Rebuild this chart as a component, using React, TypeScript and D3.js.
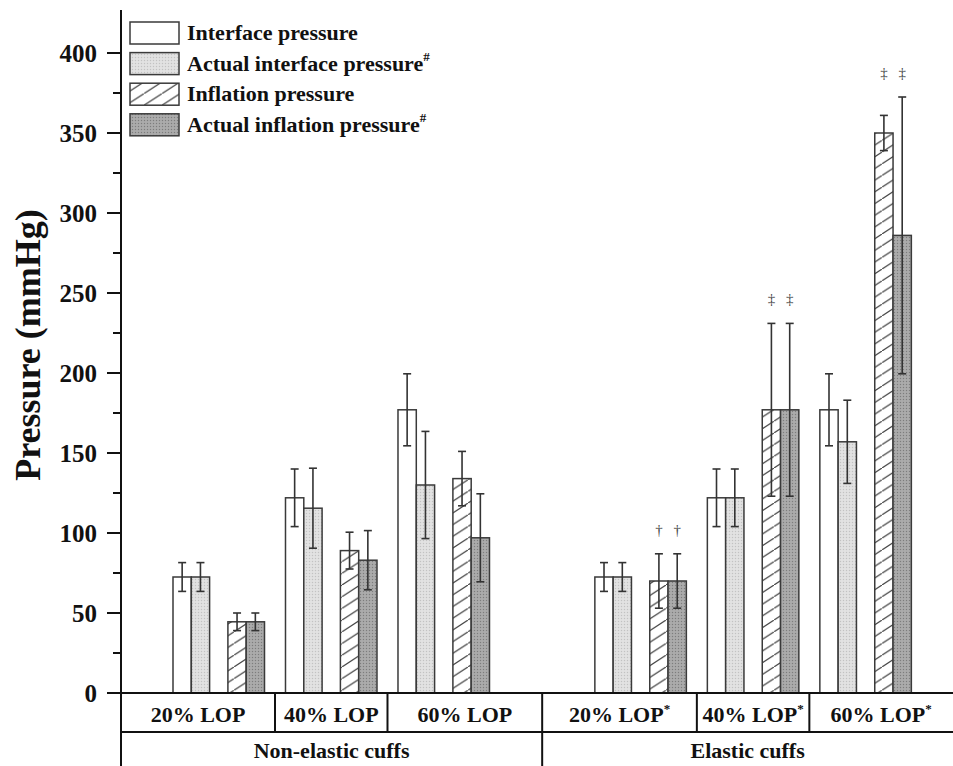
import React from "react";
import * as d3 from "d3";

const categories = ["20% LOP", "40% LOP", "60% LOP", "20% LOP", "40% LOP", "60% LOP"];
const categoryStar = [false, false, false, true, true, true];
const positions = [1, 2, 3, 4.75, 5.75, 6.75];
const groups = ["Non-elastic cuffs", "Elastic cuffs"];

const seriesNames = ["Interface pressure", "Actual interface pressure", "Inflation pressure", "Actual inflation pressure"];
const seriesHash = [false, true, false, true];

const interfaceP = [72.5, 122, 177, 72.5, 122, 177];
const interfaceSD = [9, 18, 22.5, 9, 18, 22.5];
const actualInterfaceP = [72.5, 115.5, 130, 72.5, 122, 157];
const actualInterfaceSD = [9, 25, 33.5, 9, 18, 26];
const inflationP = [44.5, 89, 134, 70, 177, 350];
const inflationSD = [5.5, 11.5, 17, 17, 54, 11];
const actualInflationP = [44.5, 83, 97, 70, 177, 286];
const actualInflationSD = [5.5, 18.5, 27.5, 17, 54, 86.5];

const markers = ["", "", "", "\u2020", "\u2021", "\u2021"];

const yTicks = [0, 50, 100, 150, 200, 250, 300, 350, 400];
const yMinor = [25, 75, 125, 175, 225, 275, 325, 375];

const W = 953;
const H = 766;
const FONT = "'Liberation Serif', 'Times New Roman', serif";

export default function App() {
  const left = 121;
  const base = 693;
  const y = d3.scaleLinear().domain([0, 400]).range([base, 53]);
  const x = d3.scaleLinear().domain([1, 6.75]).range([218.75, 865.6]);
  const bw = 18.3;
  const offsets = [-2.5, -1.5, 0.5, 1.5];
  const means = [interfaceP, actualInterfaceP, inflationP, actualInflationP];
  const sds = [interfaceSD, actualInterfaceSD, inflationSD, actualInflationSD];
  const fills = ["#ffffff", "url(#dotLight)", "url(#hatch)", "url(#dotDark)"];
  const stroke = "#3a3a3a";

  const bounds: number[] = [left];
  for (let i = 0; i < positions.length - 1; i++) bounds.push(x((positions[i] + positions[i + 1]) / 2));
  bounds.push(W);
  const groupSplit = bounds[3];

  return (
    <svg width={W} height={H} style={{ position: "absolute", left: 0, top: 0, background: "#fff" }} fontFamily={FONT}>
      <defs>
        <pattern id="dotLight" width="3" height="3" patternUnits="userSpaceOnUse">
          <rect width="3" height="3" fill="#dedede" />
          <rect x="0" y="0" width="1" height="1" fill="#c2c2c2" />
          <rect x="1.5" y="1.5" width="1" height="1" fill="#eeeeee" />
        </pattern>
        <pattern id="dotDark" width="3" height="3" patternUnits="userSpaceOnUse">
          <rect width="3" height="3" fill="#a6a6a6" />
          <rect x="0" y="0" width="1" height="1" fill="#7d7d7d" />
          <rect x="1.5" y="1.5" width="1" height="1" fill="#bababa" />
        </pattern>
        <pattern id="hatch" width="18" height="11.7" patternUnits="userSpaceOnUse">
          <rect width="18" height="11.7" fill="#fff" />
          <line x1="-1" y1="12.35" x2="19" y2="-0.65" stroke="#444" strokeWidth="1.2" />
        </pattern>
      </defs>

      {positions.map((p, gi) => (
        <g key={gi}>
          {means.map((m, si) => (
            <rect
              key={si}
              x={x(p) + offsets[si] * bw}
              y={y(m[gi])}
              width={bw}
              height={base - y(m[gi])}
              fill={fills[si]}
              stroke={stroke}
              strokeWidth={1.5}
            />
          ))}
          {means.map((m, si) => {
            const cx = x(p) + (offsets[si] + 0.5) * bw;
            const t = y(m[gi] + sds[si][gi]);
            const b = y(m[gi] - sds[si][gi]);
            return (
              <g key={"e" + si} stroke="#333" strokeWidth={1.6}>
                <line x1={cx} x2={cx} y1={t} y2={b} />
                <line x1={cx - 4} x2={cx + 4} y1={t} y2={t} />
                <line x1={cx - 4} x2={cx + 4} y1={b} y2={b} />
              </g>
            );
          })}
          {markers[gi] &&
            [2, 3].map((si) => {
              const topV = Math.max(means[2][gi] + sds[2][gi], means[3][gi] + sds[3][gi]);
              const cx = x(p) + (offsets[si] + 0.5) * bw;
              return (
                <text key={"m" + si} x={cx} y={y(topV) - 24} textAnchor="middle" dominantBaseline="central" fontSize={15} fill="#444" fontFamily="'Liberation Serif', serif">
                  {markers[gi]}
                </text>
              );
            })}
        </g>
      ))}

      <line x1={left} x2={left} y1={10} y2={H} stroke="#111" strokeWidth={2} />
      {yTicks.map((t) => (
        <g key={t}>
          <line x1={left - 14} x2={left} y1={y(t)} y2={y(t)} stroke="#111" strokeWidth={2} />
          <text x={97} y={y(t)} dy="0.35em" textAnchor="end" fontSize={25} fontWeight="bold" fill="#111">
            {t}
          </text>
        </g>
      ))}
      {yMinor.map((t) => (
        <line key={t} x1={left - 8} x2={left} y1={y(t)} y2={y(t)} stroke="#111" strokeWidth={2} />
      ))}
      <text
        transform={`translate(40, 345) rotate(-90)`}
        textAnchor="middle"
        fontSize={36}
        fontWeight="bold"
        fill="#111"
      >
        Pressure (mmHg)
      </text>

      <line x1={left} x2={W} y1={base} y2={base} stroke="#111" strokeWidth={2} />
      <line x1={left} x2={W} y1={732} y2={732} stroke="#111" strokeWidth={2} />
      {bounds.slice(1, -1).map((b, i) => (
        <line key={i} x1={b} x2={b} y1={base} y2={i === 2 ? H : 732} stroke="#111" strokeWidth={2} />
      ))}
      {categories.map((c, i) => (
        <text key={i} x={(bounds[i] + bounds[i + 1]) / 2} y={722} textAnchor="middle" fontSize={22} fontWeight="bold" fill="#111">
          {c}
          {categoryStar[i] && (
            <tspan fontSize={13} dy={-9}>
              *
            </tspan>
          )}
        </text>
      ))}
      <text x={(left + groupSplit) / 2} y={758} textAnchor="middle" fontSize={22} fontWeight="bold" fill="#111">
        {groups[0]}
      </text>
      <text x={(groupSplit + W) / 2} y={758} textAnchor="middle" fontSize={22} fontWeight="bold" fill="#111">
        {groups[1]}
      </text>

      {seriesNames.map((s, i) => {
        const top = 22 + i * 30.6;
        return (
          <g key={s}>
            <rect x={130} y={top} width={49} height={22} fill={fills[i]} stroke={stroke} strokeWidth={1.5} />
            <text x={187} y={top + 18} fontSize={22} fontWeight="bold" fill="#111">
              {s}
              {seriesHash[i] && (
                <tspan fontSize={13} dy={-10}>
                  #
                </tspan>
              )}
            </text>
          </g>
        );
      })}
    </svg>
  );
}
